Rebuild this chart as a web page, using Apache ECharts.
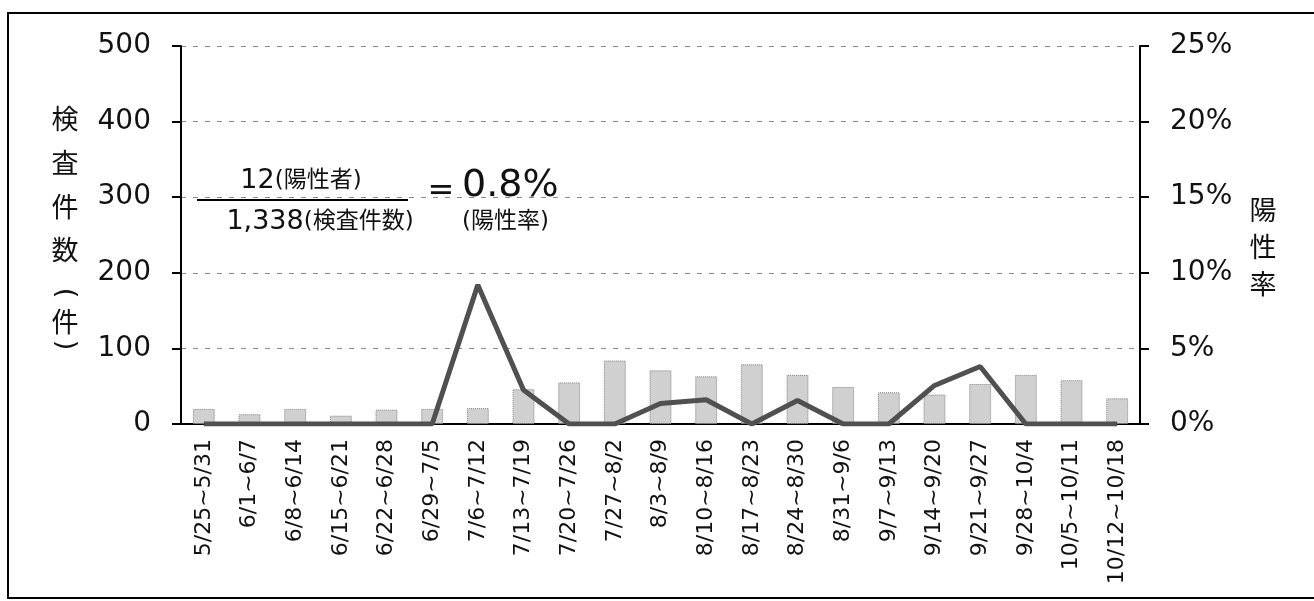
<!DOCTYPE html>
<html>
<head>
<meta charset="utf-8">
<script src="https://cdn.jsdelivr.net/npm/echarts@6/dist/echarts.min.js"></script>
<style>
html, body { margin: 0; padding: 0; background: #fff; }
#chart { width: 1314px; height: 601px; }
</style>
</head>
<body>
<div id="chart"></div>
<script>
// 週ごとの検査件数と陽性率
var weeks = ['5/25~5/31', '6/1~6/7', '6/8~6/14', '6/15~6/21', '6/22~6/28', '6/29~7/5',
  '7/6~7/12', '7/13~7/19', '7/20~7/26', '7/27~8/2', '8/3~8/9', '8/10~8/16', '8/17~8/23',
  '8/24~8/30', '8/31~9/6', '9/7~9/13', '9/14~9/20', '9/21~9/27', '9/28~10/4',
  '10/5~10/11', '10/12~10/18']
var tests = [20, 13, 20, 11, 19, 20, 21, 46, 55, 84, 71, 63, 79, 65, 49, 42, 39, 53, 65, 58, 34]
var rate = [0, 0, 0, 0, 0, 0, 9.2, 2.25, 0, 0, 1.35, 1.6, 0, 1.55, 0, 0, 2.55, 3.8, 0, 0, 0]
var countAxis = { min: 0, max: 500, step: 100 }
var rateAxis = { min: 0, max: 25, step: 5 }
var leftName = ['検', '査', '件', '数', '(', '件', ')']
var rightName = ['陽', '性', '率']

var font = "'DejaVu Sans', 'Noto Sans CJK JP', sans-serif"
var black = '#111'

var myChart = echarts.init(document.getElementById('chart'))

// 縦書きの軸タイトル (括弧は回転させて縦向きに)
var leftY = [122, 166, 210, 253, 293, 325, 345]
var rightY = [213, 250, 287]
var graphics = []
leftName.forEach(function (ch, i) {
  var isParen = ch == '(' || ch == ')'
  graphics.push({
    type: 'text', x: 65, y: leftY[i], silent: true,
    rotation: isParen ? -Math.PI / 2 : 0,
    style: { text: ch, font: '27px ' + font, fill: black, align: 'center', verticalAlign: 'middle' }
  })
})
rightName.forEach(function (ch, i) {
  graphics.push({
    type: 'text', x: 1263, y: rightY[i], silent: true,
    style: { text: ch, font: '27px ' + font, fill: black, align: 'center', verticalAlign: 'middle' }
  })
})
// 外枠
graphics.push({
  type: 'rect', silent: true, z: -1,
  shape: { x: 8, y: 13, width: 1400, height: 585 },
  style: { fill: 'none', stroke: '#000', lineWidth: 2 }
})
// 陽性率の式
graphics.push({
  type: 'text', x: 301, y: 181, silent: true,
  style: {
    text: '{n|12}{s|(陽性者)}', align: 'center', verticalAlign: 'middle',
    rich: {
      n: { fontFamily: font, fontSize: 27, fill: black },
      s: { fontFamily: font, fontSize: 23, fill: black }
    }
  }
})
graphics.push({
  type: 'line', silent: true,
  shape: { x1: 197, y1: 200, x2: 408, y2: 200 },
  style: { stroke: '#000', lineWidth: 2 }
})
graphics.push({
  type: 'text', x: 320, y: 222, silent: true,
  style: {
    text: '{n|1,338}{s|(検査件数)}', align: 'center', verticalAlign: 'middle',
    rich: {
      n: { fontFamily: font, fontSize: 27, fill: black },
      s: { fontFamily: font, fontSize: 23, fill: black }
    }
  }
})
graphics.push({
  type: 'text', x: 441, y: 192, silent: true,
  style: { text: '=', font: '32px ' + font, fill: black, align: 'center', verticalAlign: 'middle' }
})
graphics.push({
  type: 'text', x: 462, y: 186, silent: true,
  style: { text: '0.8%', font: '38px ' + font, fill: black, align: 'left', verticalAlign: 'middle' }
})
graphics.push({
  type: 'text', x: 462, y: 222, silent: true,
  style: { text: '(陽性率)', font: '23px ' + font, fill: black, align: 'left', verticalAlign: 'middle' }
})

var option = {
  backgroundColor: '#fff',
  animation: false,
  textStyle: { fontFamily: font },
  grid: { left: 181, right: 174, top: 46, bottom: 177 },
  xAxis: {
    type: 'category',
    data: weeks,
    axisLine: { lineStyle: { color: '#000', width: 2 } },
    axisTick: { show: false },
    axisLabel: { rotate: 90, fontSize: 22, margin: 15, color: black, interval: 0 }
  },
  yAxis: [
    {
      type: 'value',
      min: countAxis.min, max: countAxis.max, interval: countAxis.step,
      axisLine: { show: true, lineStyle: { color: '#000', width: 2 } },
      axisTick: { show: true, length: 9, lineStyle: { color: '#000', width: 2 } },
      axisLabel: { fontSize: 28, margin: 30, color: black },
      splitLine: { show: true, lineStyle: { color: '#888', width: 1, type: [5, 7] } }
    },
    {
      type: 'value',
      min: rateAxis.min, max: rateAxis.max, interval: rateAxis.step,
      axisLine: { show: true, lineStyle: { color: '#000', width: 2 } },
      axisTick: { show: true, length: 9, lineStyle: { color: '#000', width: 2 } },
      axisLabel: { fontSize: 28, margin: 30, color: black, formatter: '{value}%' },
      splitLine: { show: false }
    }
  ],
  series: [
    {
      name: '検査件数',
      type: 'bar',
      data: tests,
      barWidth: '48%',
      itemStyle: { color: '#d0d0d0', borderColor: '#808080', borderWidth: 1, borderType: 'dotted' }
    },
    {
      name: '陽性率',
      type: 'line',
      yAxisIndex: 1,
      data: rate,
      symbol: 'none',
      z: 5,
      lineStyle: { color: '#505050', width: 5 }
    }
  ],
  graphic: graphics
}
myChart.setOption(option)
</script>
</body>
</html>
